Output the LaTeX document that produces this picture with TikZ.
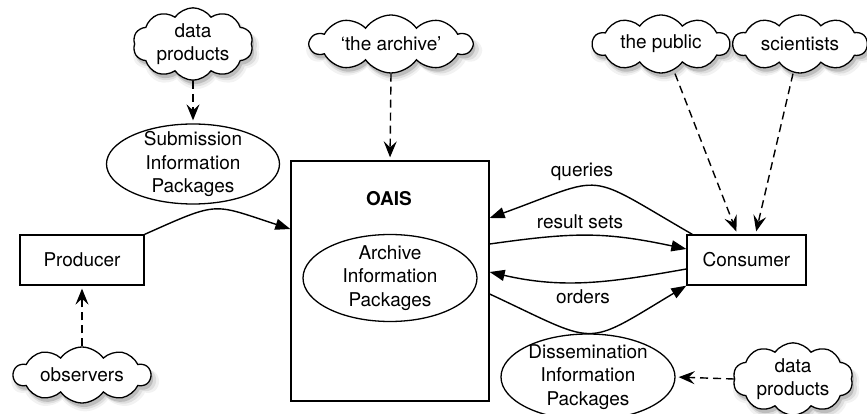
\documentclass[tikz,border=0pt]{standalone}
\usepackage{fontspec}
\setmainfont{TeX Gyre Heros}
\usetikzlibrary{shapes.geometric, shapes.symbols, shadows, arrows.meta}

\begin{document}
\begin{tikzpicture}[x=1pt, y=1pt,
    txt/.style={font=\fontsize{19}{23.5}\selectfont, align=center},
    cloudbox/.style={txt, cloud, cloud puffs=10, cloud puff arc=110, cloud ignores aspect,
        draw, line width=1.3pt, fill=white, inner sep=0pt,
        drop shadow={shadow xshift=3pt, shadow yshift=-6pt, opacity=.10, shadow scale=1.07},
        drop shadow={shadow xshift=3pt, shadow yshift=-5pt, opacity=.18, shadow scale=1.03},
        drop shadow={shadow xshift=2pt, shadow yshift=-4pt, opacity=.35}},
    pkg/.style={ellipse, draw, line width=1.3pt, inner sep=0pt},
    actor/.style={txt, rectangle, draw, line width=1.3pt, fill=white},
    flow/.style={line width=1.4pt, -{Triangle[length=15pt, width=11pt]}},
    dep/.style={line width=1.4pt, dash pattern=on 8pt off 5pt,
        -{Stealth[length=16pt, width=13pt, inset=6pt]}, shorten >=3pt}]
    \useasboundingbox (0,0) rectangle (867,-414);

    % Draw the clouds
    \node[cloudbox, minimum width=120pt, minimum height=58pt] (dpin) at (193,-44) {data\\products};
    \node[cloudbox, minimum width=162pt, minimum height=58pt] (thearchive) at (391,-44) {‘the archive’};
    \node[cloudbox, minimum width=137pt, minimum height=58pt] (public) at (661,-44) {the public};
    \node[cloudbox, minimum width=134pt, minimum height=58pt] (scientists) at (800,-44) {scientists};
    \node[cloudbox, minimum width=137pt, minimum height=56pt] (observers) at (82,-375) {observers};
    \node[cloudbox, minimum width=120pt, minimum height=50pt] (dpout) at (793,-379) {data\\products};

    % Draw the actors and the archive
    \node[actor, minimum width=124pt, minimum height=50pt] (producer) at (82,-260) {Producer};
    \node[actor, minimum width=119pt, minimum height=50pt] (consumer) at (746.5,-260) {Consumer};
    \node[rectangle, draw, line width=1.3pt, minimum width=198pt, minimum height=240pt] (oais) at (390,-281) {};
    \node[txt, anchor=base, font=\fontsize{19}{23.5}\selectfont\bfseries] (oaistitle) at (389,-205) {OAIS};

    % Draw the information packages
    \node[pkg, minimum width=173pt, minimum height=80pt,
        label={[txt]center:{Submission\\Information\\Packages}}] (sip) at (193,-164) {};
    \node[pkg, minimum width=174pt, minimum height=87pt,
        label={[txt]center:{Archive\\Information\\Packages}}] (aip) at (390,-278) {};
    \node[pkg, minimum width=174pt, minimum height=86pt,
        label={[txt]center:{Dissemination\\Information\\Packages}}] (dip) at (588,-377) {};

    % Draw the labels of the flows
    \node[txt, anchor=base] (queries) at (582,-177) {queries};
    \node[txt, anchor=base] (resultsets) at (580,-228) {result sets};
    \node[txt, anchor=base] (orders) at (583,-303) {orders};

    % Draw the flows
    \draw[flow] (producer.north east) to[out=24, in=162, looseness=1.45] ([yshift=52pt]oais.west);
    \draw[flow] ([xshift=6pt]consumer.north west) to[out=150, in=20, looseness=1.6] ([yshift=63pt]oais.east);
    \draw[flow] ([yshift=37pt]oais.east) to[out=8, in=168, looseness=1.1] ([yshift=11pt]consumer.west);
    \draw[flow] ([yshift=-9pt]consumer.west) to[out=190, in=-13] ([yshift=9pt]oais.east);
    \draw[flow] ([yshift=-13pt]oais.east) to[out=-25, in=211, looseness=1.58] (consumer.south west);

    % Draw the dashed links
    \draw[dep] (dpin.south) -- (sip.north);
    \draw[dep] (thearchive.south) -- (oais.north);
    \draw[dep] (observers.north) -- (producer.south);
    \draw[dep] ([xshift=14pt]public.south) -- ([xshift=-9pt]consumer.north);
    \draw[dep] ([xshift=-7pt]scientists.south) -- ([xshift=9pt]consumer.north);
    \draw[dep] (dpout.west) -- (dip.east);

\end{tikzpicture}
\end{document}
